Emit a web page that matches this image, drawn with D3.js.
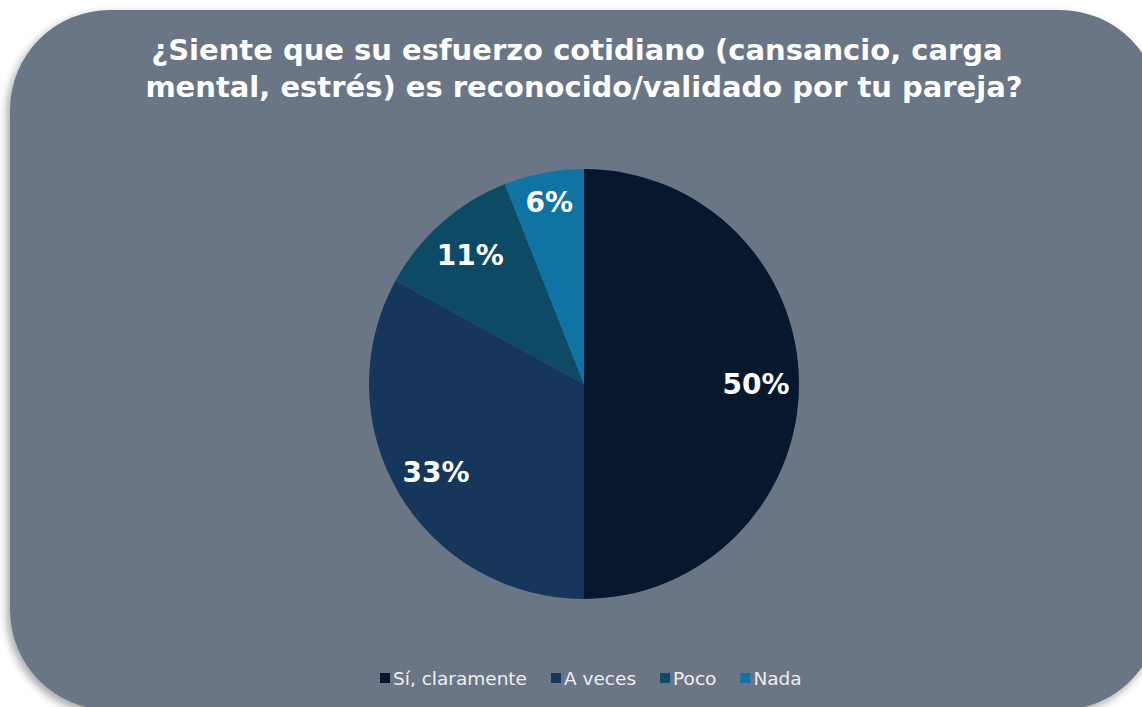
<!DOCTYPE html>
<html>
<head>
<meta charset="utf-8">
<script src="https://cdn.jsdelivr.net/npm/d3@7"></script>
<style>
  html, body { margin: 0; padding: 0; background: #ffffff; }
  svg { display: block; }
</style>
</head>
<body>
<svg id="chart"></svg>
<script>
// datos del gráfico
const categories = ['Sí, claramente', 'A veces', 'Poco', 'Nada'];
const values = [50, 33, 11, 6];
const titleLines = [
  '¿Siente que su esfuerzo cotidiano (cansancio, carga',
  'mental, estrés) es reconocido/validado por tu pareja?'
];

const width = 1142, height = 707;
const sliceColors = ['#07182e', '#17365c', '#0d4a66', '#0f74a3'];

const svg = d3.select('#chart')
  .attr('width', width)
  .attr('height', height);

// sombra del fondo
const defs = svg.append('defs');
const shadow = defs.append('filter')
  .attr('id', 'shadow')
  .attr('x', '-10%').attr('y', '-10%')
  .attr('width', '120%').attr('height', '120%');
shadow.append('feDropShadow')
  .attr('dx', -3).attr('dy', 4)
  .attr('stdDeviation', 4)
  .attr('flood-color', '#000')
  .attr('flood-opacity', 0.35);

// fondo redondeado
svg.append('rect')
  .attr('x', 10)
  .attr('y', 10)
  .attr('width', 1150)
  .attr('height', 700)
  .attr('rx', 100)
  .attr('ry', 100)
  .attr('fill', '#6a7686')
  .attr('filter', 'url(#shadow)');

// titulo
svg.append('text')
  .attr('y', 60)
  .attr('text-anchor', 'middle')
  .style('font-family', 'DejaVu Sans, sans-serif')
  .style('font-weight', 'bold')
  .style('font-size', '29px')
  .attr('fill', '#ffffff')
  .selectAll('tspan')
  .data(titleLines)
  .join('tspan')
  .attr('x', (d, i) => i === 0 ? 577 : 584)
  .attr('dy', (d, i) => i === 0 ? 0 : 37)
  .text(d => d);

// pastel
const cx = 584, cy = 384, radius = 215;

const color = d3.scaleOrdinal()
  .domain(categories)
  .range(sliceColors);

const pie = d3.pie()
  .sort(null)
  .value(d => d.value);

const data = categories.map((c, i) => ({ category: c, value: values[i] }));
const arcs = pie(data);

const arc = d3.arc()
  .innerRadius(0)
  .outerRadius(radius);

// la etiqueta del sector pequeño va algo más afuera
const labelArc = d3.arc()
  .innerRadius(d => d.data.value < 10 ? radius * 0.86 : radius * 0.8)
  .outerRadius(d => d.data.value < 10 ? radius * 0.86 : radius * 0.8);

const g = svg.append('g')
  .attr('transform', `translate(${cx}, ${cy})`);

g.selectAll('path')
  .data(arcs)
  .join('path')
  .attr('d', arc)
  .attr('fill', d => color(d.data.category));

g.selectAll('text')
  .data(arcs)
  .join('text')
  .attr('transform', d => `translate(${labelArc.centroid(d)})`)
  .attr('text-anchor', 'middle')
  .attr('dy', '0.36em')
  .style('font-family', 'DejaVu Sans, sans-serif')
  .style('font-weight', 'bold')
  .style('font-size', '28px')
  .attr('fill', '#ffffff')
  .text(d => d.data.value + '%');

// leyenda
const legend = svg.append('g')
  .attr('transform', 'translate(380, 679)');

let offset = 0;
categories.forEach((c, i) => {
  const item = legend.append('g')
    .attr('transform', `translate(${offset}, 0)`);
  item.append('rect')
    .attr('x', 0)
    .attr('y', -6)
    .attr('width', 10)
    .attr('height', 10)
    .attr('fill', color(c));
  const t = item.append('text')
    .attr('x', 13)
    .attr('y', 0)
    .attr('dy', '0.35em')
    .style('font-family', 'DejaVu Sans, sans-serif')
    .style('font-size', '18.5px')
    .attr('fill', '#eeeeee')
    .text(c);
  offset += 13 + t.node().getComputedTextLength() + 24;
});
</script>
</body>
</html>
